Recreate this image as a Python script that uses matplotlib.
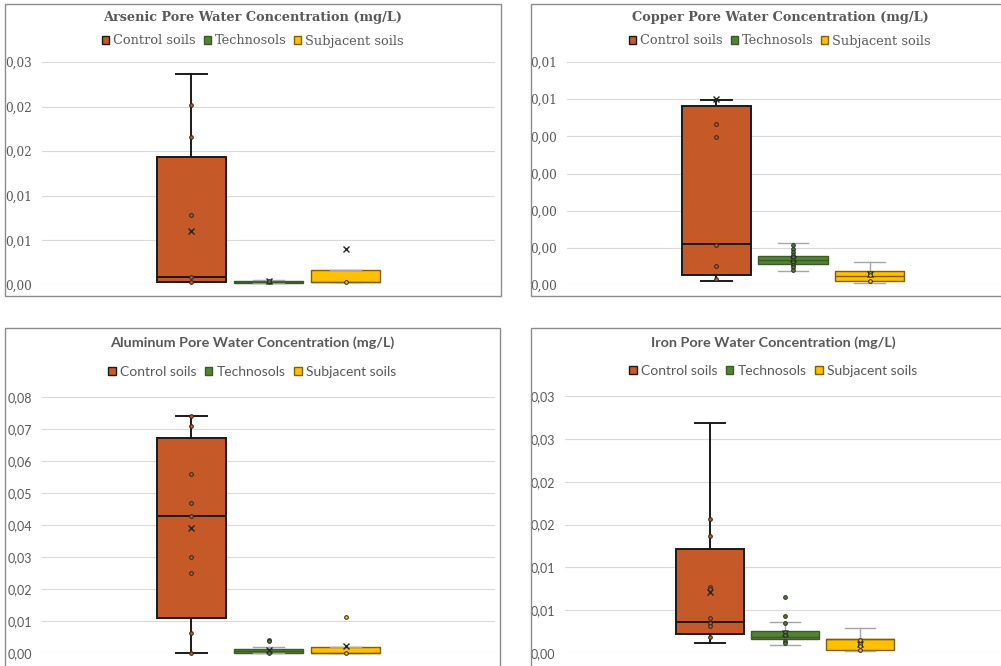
import math
import matplotlib
matplotlib.use("Agg")
import matplotlib.pyplot as plt
from matplotlib.patches import Patch, Rectangle
from matplotlib.ticker import FuncFormatter, MultipleLocator

# series shared by the four charts
series = ["Control soils", "Technosols", "Subjacent soils"]
fills = ["#C55A28", "#548235", "#FFC000"]
edges = ["#1A1A1A", "#3B5B26", "#7F6000"]
whisk = ["#1A1A1A", "#A6A6A6", "#A6A6A6"]

# box statistics, one value per series (control, techno, subjacent)
arsenic = dict(
    q1=[0.0003, 0.0002, 0.0003],
    med=[0.0009, 0.0003, 0.0003],
    q3=[0.0143, 0.00045, 0.0017],
    lo=[0.0003, 0.0002, 0.0003],
    hi=[0.0236, 0.0006, 0.0017],
    mean=[0.0061, 0.0004, 0.0040],
    pts=[[0.0202, 0.0166, 0.0078, 0.0009, 0.0003], [0.0003, 0.0004], [0.0003]],
)
copper = dict(
    q1=[0.00027, 0.00057, 0.00011],
    med=[0.0011, 0.00067, 0.00024],
    q3=[0.00482, 0.00078, 0.00038],
    lo=[0.00011, 0.00038, 0.00005],
    hi=[0.00498, 0.00113, 0.00062],
    mean=[0.00500, 0.0007, 0.0003],
    pts=[[0.00433, 0.00398, 0.00108, 0.00051, 0.00016],
         [0.00108, 0.00098, 0.0009, 0.00082, 0.00074, 0.00068, 0.00062, 0.00055, 0.00048, 0.00041],
         [0.00032, 0.00027, 0.00012]],
)
aluminum = dict(
    q1=[0.0109, 0.0, 0.0],
    med=[0.0428, 0.0005, 0.0],
    q3=[0.0672, 0.0011, 0.0019],
    lo=[0.0, 0.0, 0.0],
    hi=[0.0741, 0.002, 0.0019],
    mean=[0.039, 0.0008, 0.0022],
    pts=[[0.0741, 0.0709, 0.0559, 0.0469, 0.0428, 0.030, 0.025, 0.0062, 0.0],
         [0.0040, 0.0037, 0.0003, 0.0], [0.0112, 0.0]],
)
iron = dict(
    q1=[0.0022, 0.0016, 0.0003],
    med=[0.0036, 0.0019, 0.0016],
    q3=[0.0121, 0.0026, 0.0016],
    lo=[0.0012, 0.0009, 0.0002],
    hi=[0.0268, 0.0036, 0.0029],
    mean=[0.0071, 0.0023, 0.0011],
    pts=[[0.0156, 0.0137, 0.0077, 0.0075, 0.0041, 0.0035, 0.0031, 0.0019],
         [0.0065, 0.0043, 0.0035, 0.0025, 0.0021, 0.0014, 0.0012],
         [0.0015, 0.0011, 0.0008, 0.0004]],
)

W, H = 1001, 666
fig = plt.figure(figsize=(W / 100, H / 100), dpi=100)


def px(x0, y0, x1, y1):
    # pixel box (top-left origin) -> figure fraction rect
    return [x0 / W, 1 - y1 / H, (x1 - x0) / W, (y1 - y0) / H]


def fmt(v, p):
    # excel style: 2 decimals, half up, comma
    return f"{math.floor(v * 100 + 0.5 + 1e-9) / 100:.2f}".replace(".", ",")


def panel(frame, rect, d, step, top, title, tcx, font, tsize, lsize, ksize, toff, loff):
    fig.add_artist(Rectangle(frame[:2], frame[2], frame[3], transform=fig.transFigure,
                             fill=False, ec="#8C8C8C", lw=1.0))
    ax = fig.add_axes(rect)
    for i in range(3):
        st = [dict(q1=d["q1"][i], med=d["med"][i], q3=d["q3"][i], whislo=d["lo"][i],
                   whishi=d["hi"][i], mean=d["mean"][i], fliers=[])]
        lw = 1.4 if i == 0 else 1.0
        ax.bxp(st, positions=[i - 1], widths=0.9, patch_artist=True, showmeans=True,
               showfliers=False,
               boxprops=dict(facecolor=fills[i], edgecolor=edges[i], linewidth=lw),
               medianprops=dict(color=edges[i], linewidth=lw),
               whiskerprops=dict(color=whisk[i], linewidth=lw),
               capprops=dict(color=whisk[i], linewidth=lw),
               capwidths=0.4,
               meanprops=dict(marker="x", markeredgecolor="#262626", markersize=5,
                              markeredgewidth=1.0))
        ax.scatter([i - 1] * len(d["pts"][i]), d["pts"][i], s=7, facecolor=fills[i],
                   edgecolor="#262626", linewidth=0.7, zorder=4)
    for a in ax.get_children():
        a.set_clip_on(False)
    ax.set_xlim(-2.94, 2.94)
    ax.set_ylim(0, top)
    ax.yaxis.set_major_locator(MultipleLocator(step))
    ax.yaxis.set_major_formatter(FuncFormatter(fmt))
    ax.grid(axis="y", color="#D9D9D9", linewidth=0.8)
    ax.set_axisbelow(True)
    ax.set_xticks([])
    ax.tick_params(axis="y", length=0, pad=7, labelsize=ksize, labelcolor="#595959")
    for lab in ax.get_yticklabels():
        lab.set_family(font)
    for s in ax.spines.values():
        s.set_visible(False)
    fy = frame[1] + frame[3]
    fig.text(tcx / W, fy - toff / H, title, ha="center", va="center", family=font,
             weight="bold", size=tsize, color="#595959")
    handles = [Patch(facecolor=fills[i], edgecolor=edges[i], lw=1.0, label=series[i])
               for i in range(3)]
    fig.legend(handles=handles, loc="center", bbox_to_anchor=(tcx / W, fy - loff / H),
               ncol=3, frameon=False, handlelength=0.55, handleheight=0.55,
               handletextpad=0.3, columnspacing=0.6, borderaxespad=0,
               prop=dict(family=font, size=lsize), labelcolor="#595959")
    return ax


serif = "DejaVu Serif"
sans = "Lato"
panel(px(5, 4, 501, 296), px(42, 62, 495, 285), arsenic, 0.005, 0.025,
      "Arsenic Pore Water Concentration (mg/L)", 253, serif, 9.3, 9.3, 8.7, 13, 37)
panel(px(531, 4, 1010, 296), px(567, 62, 1019, 285), copper, 0.001, 0.006,
      "Copper Pore Water Concentration (mg/L)", 780, serif, 9.3, 9.3, 8.7, 13, 37)
panel(px(5, 328, 500, 675), px(42, 397, 495, 653), aluminum, 0.01, 0.08,
      "Aluminum Pore Water Concentration (mg/L)", 252, sans, 10.4, 10, 9, 15, 44)
panel(px(531, 328, 1010, 675), px(565, 396, 1005, 653), iron, 0.005, 0.03,
      "Iron Pore Water Concentration (mg/L)", 773, sans, 10.4, 10, 9, 15, 43)

fig.savefig("out.png", dpi=100)
